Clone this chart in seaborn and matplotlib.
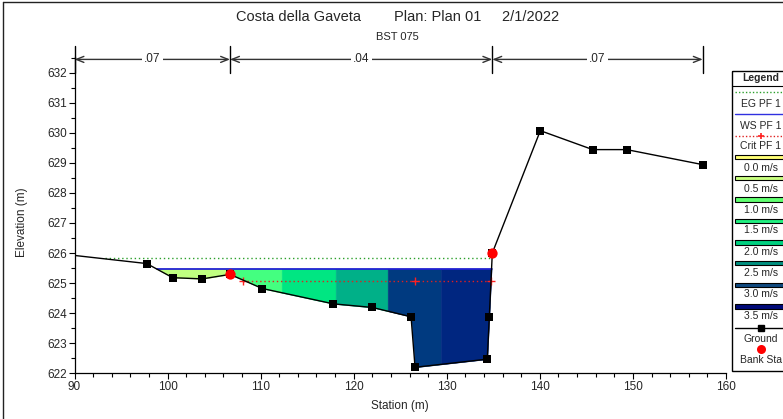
import numpy as np
import pandas as pd
import matplotlib
matplotlib.use("Agg")
import matplotlib.pyplot as plt
import seaborn as sns
from matplotlib.patches import Rectangle

# ---------------- data ----------------
ground_x = [90.0, 97.76, 100.55, 103.73, 106.71, 110.18, 117.81, 122.0, 126.16, 126.59,
            134.35, 134.57, 134.89, 140.05, 145.68, 149.33, 157.5]
ground_y = [625.92, 625.65, 625.18, 625.14, 625.29, 624.82, 624.31, 624.19, 623.88, 622.2,
            622.47, 623.88, 626.0, 630.07, 629.44, 629.44, 628.94]
bank_x = [106.71, 134.89]
bank_y = [625.29, 626.0]

eg_x = [93.3, 134.86]
eg_elev = 625.82
ws_x = [98.89, 134.81]
ws_elev = 625.46
crit_x = [108.1, 126.59, 134.75]
crit_elev = 625.07

slice_edges = [98.89, 106.71, 112.26, 118.06, 123.65, 129.38, 134.81]
slice_colors = ['#c0ff80', '#44ff80', '#00e682', '#00b088', '#003a80', '#002680']

rough_x = [90.0, 106.71, 134.89, 157.5]
rough_n = ['.07', '.04', '.07']

legend_vel = ['0.0 m/s', '0.5 m/s', '1.0 m/s', '1.5 m/s', '2.0 m/s', '2.5 m/s', '3.0 m/s', '3.5 m/s']
legend_vel_colors = ['#ffff77', '#c8ff80', '#60ff70', '#20f080', '#00d080', '#009080', '#104a80', '#000a78']

# ---------------- style ----------------
sns.set_theme(style="ticks")
plt.rcParams['font.family'] = ['Liberation Sans', 'DejaVu Sans']

W, H = 783, 419
fig = plt.figure(figsize=(W / 100, H / 100), dpi=100)
fig.patch.set_facecolor('white')

ax_l, ax_r, ax_t, ax_b = 74.5, 726.0, 57.0, 373.3
ax = fig.add_axes([ax_l / W, 1 - ax_b / H, (ax_r - ax_l) / W, (ax_b - ax_t) / H])
ax.set_facecolor('white')

gx = np.array(ground_x)
gy = np.array(ground_y)

# velocity slices
for (a, b), col in zip(zip(slice_edges[:-1], slice_edges[1:]), slice_colors):
    xs = np.unique(np.concatenate([[a, b], gx[(gx > a) & (gx < b)]]))
    ys = np.interp(xs, gx, gy)
    ax.fill_between(xs, ys, ws_elev, where=ys <= ws_elev + 1e-9, interpolate=True,
                    color=col, lw=0.4, edgecolor=col, zorder=2)

# lines
ax.plot(eg_x, [eg_elev] * 2, color='#2ca02c', lw=1.0, ls=(0, (1, 2)), zorder=3)
ax.plot(ws_x, [ws_elev] * 2, color='#1010d0', lw=1.2, zorder=3)
ax.plot([crit_x[0], crit_x[-1]], [crit_elev] * 2, color='#e02020', lw=1.0, ls=(0, (1, 2)), zorder=3)
ax.plot(crit_x, [crit_elev] * len(crit_x), ls='none', marker='+', color='#ff2020', ms=5.5, mew=1.0, zorder=3)

gdf = pd.DataFrame({'x': ground_x, 'y': ground_y})
sns.lineplot(data=gdf, x='x', y='y', ax=ax, color='black', lw=1.0, sort=False,
             estimator=None, zorder=4)
sns.scatterplot(data=gdf.iloc[1:], x='x', y='y', ax=ax, color='black', marker='s',
                s=28, edgecolor='black', linewidth=0, zorder=5)
bdf = pd.DataFrame({'x': bank_x, 'y': bank_y})
sns.scatterplot(data=bdf, x='x', y='y', ax=ax, color='#ff0000', marker='o', s=55,
                linewidth=0, zorder=6)

# roughness annotations
y_arrow = 632.44
for xv in rough_x:
    ax.plot([xv, xv], [632.0, 632.87], color='black', lw=1.0, clip_on=False, zorder=7)
for (a, b), lab in zip(zip(rough_x[:-1], rough_x[1:]), rough_n):
    ax.annotate('', xy=(b, y_arrow), xytext=(a, y_arrow), annotation_clip=False,
                arrowprops=dict(arrowstyle='<->,head_length=0.45,head_width=0.18',
                                color='#333333', lw=1.0, shrinkA=0, shrinkB=0))
    ax.text((a + b) / 2, y_arrow, lab, ha='center', va='center', fontsize=8.5,
            bbox=dict(facecolor='white', edgecolor='none', pad=1.5), zorder=8, clip_on=False)

ax.set_xlim(90, 160)
ax.set_ylim(622, 632.52)
ax.set_xticks(np.arange(90, 161, 10))
ax.set_xticks(np.arange(90, 161, 2), minor=True)
ax.set_yticks(np.arange(622, 633, 1))
ax.set_yticks(np.arange(622, 632.6, 0.5), minor=True)
ax.tick_params(which='major', direction='out', length=4, width=0.8, labelsize=8.5, pad=1.5, color='black')
ax.tick_params(which='minor', direction='out', length=3, width=0.8, color='black')
ax.set_xlabel('')
ax.set_ylabel('')
for s in ['top', 'right']:
    ax.spines[s].set_visible(False)
for s in ['left', 'bottom']:
    ax.spines[s].set_color('black')
    ax.spines[s].set_linewidth(0.9)

# titles and labels
fig.text(398 / W, 1 - 17 / H, 'Costa della Gaveta        Plan: Plan 01     2/1/2022',
         ha='center', va='center', fontsize=10.5)
fig.text(397.5 / W, 1 - 37 / H, 'BST 075', ha='center', va='center', fontsize=8)
fig.text(400 / W, 1 - 406 / H, 'Station (m)', ha='center', va='center', fontsize=8.5)
fig.text(21.7 / W, 1 - 221.7 / H, 'Elevation (m)', ha='center', va='center',
         fontsize=8.5, rotation=90)

# figure border (left & top)
fig.add_artist(plt.Line2D([3 / W, 3 / W], [0, 1 - 2 / H], color='#222222', lw=1.0))
fig.add_artist(plt.Line2D([3 / W, 1], [1 - 2 / H, 1 - 2 / H], color='#222222', lw=1.0))

# ---------------- legend (pixel coords) ----------------
lx0, ltop, lbot, lw_ = 731.7, 71.0, 371.0, 60.0
lax = fig.add_axes([lx0 / W, 1 - lbot / H, lw_ / W, (lbot - ltop) / H])
lax.set_xlim(0, lw_)
lax.set_ylim(lbot, ltop)
lax.axis('off')
lax.add_patch(Rectangle((0, ltop), lw_ + 5, lbot - ltop, fill=False, edgecolor='black', lw=1.0, clip_on=False))
cx = 29.3
lax.plot([0, lw_], [85.7, 85.7], color='black', lw=0.8)
lax.text(cx, 78.3, 'Legend', ha='center', va='center', fontsize=7.5, fontweight='bold')
fs = 7.5
lax.plot([3, lw_], [91.7, 91.7], color='#2ca02c', lw=1.0, ls=(0, (1, 1.5)))
lax.text(cx, 104.3, 'EG PF 1', ha='center', va='center', fontsize=fs)
lax.plot([3, lw_], [114.3, 114.3], color='#3030e0', lw=1.0)
lax.text(cx, 126.0, 'WS PF 1', ha='center', va='center', fontsize=fs)
lax.plot([3, lw_], [135.7, 135.7], color='#e02020', lw=1.0, ls=(0, (1, 1.5)))
lax.plot([cx], [135.7], marker='+', color='#ff2020', ms=5, mew=1.2)
lax.text(cx, 145.7, 'Crit PF 1', ha='center', va='center', fontsize=fs)
bar_y = [157.0, 178.3, 199.7, 221.0, 242.7, 263.3, 285.0, 306.7]
txt_y = [167.7, 189.3, 210.3, 230.3, 252.0, 273.3, 294.3, 316.0]
for by, ty, lab, col in zip(bar_y, txt_y, legend_vel, legend_vel_colors):
    lax.add_patch(Rectangle((3, by - 2.2), lw_, 4.4, facecolor=col, edgecolor='black', lw=0.8, clip_on=False))
    lax.text(cx, ty, lab, ha='center', va='center', fontsize=fs)
lax.plot([3, lw_], [327.7, 327.7], color='black', lw=1.0)
lax.plot([cx], [327.7], marker='s', color='black', ms=4.5)
lax.text(cx, 338.7, 'Ground', ha='center', va='center', fontsize=fs)
lax.plot([cx], [349.3], marker='o', color='#ff0000', ms=6.5, mew=0)
lax.text(cx, 360.0, 'Bank Sta', ha='center', va='center', fontsize=fs)

fig.savefig('out.png', dpi=100)
